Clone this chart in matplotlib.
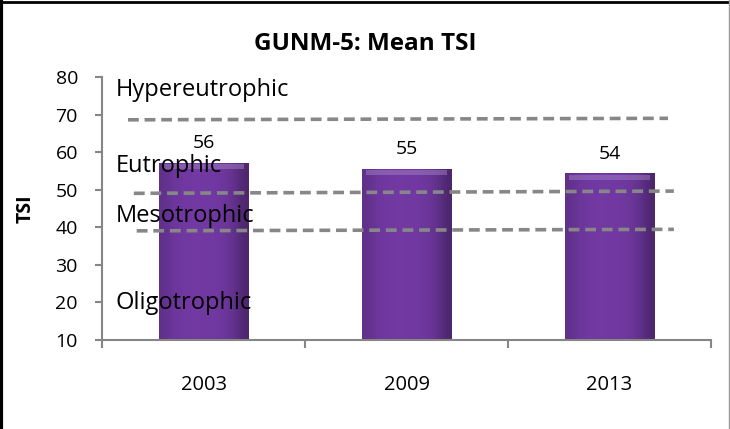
import matplotlib.pyplot as plt
from matplotlib.lines import Line2D
import numpy as np

#---Chart data
years = ['2003', '2009', '2013']
mean_tsi = [57.1, 55.5, 54.3]
bar_labels = ['56', '55', '54']

#---Trophic boundaries (left end, right end) and their names
boundary_left = [68.7, 49.1, 39.1]
boundary_right = [69.1, 49.7, 39.5]
zone_names = ['Hypereutrophic', 'Eutrophic', 'Mesotrophic', 'Oligotrophic']
zone_text_y = [76.7, 56.5, 43.1, 19.9]

plt.rcParams['font.family'] = ['Open Sans', 'DejaVu Sans']

fig = plt.figure(figsize=(7.3, 4.29), dpi=100)
ax = fig.add_axes([0.140, 0.2075, 0.834, 0.612])

x = np.arange(len(years))
bar_w = 0.44
bars = ax.bar(x, mean_tsi, width=bar_w, color='#6e3a98', linewidth=0, zorder=2)

#---shaded fill: darker at the sides, lighter bevel at the top
shade = np.array([0.86, 0.96, 1.0, 1.02, 1.02, 1.01, 1.0, 0.96, 0.86, 0.68])
base = np.array([0x70, 0x38, 0xa0]) / 255.0
for b in bars:
    x0 = b.get_x()
    h = b.get_height()
    img = np.clip(base[None, None, :] * shade[None, :, None], 0, 1)
    ax.imshow(img, extent=[x0, x0 + bar_w, 0, h], aspect='auto',
              interpolation='bicubic', zorder=2.5)
    ax.bar(x0 + bar_w / 2, 1.3, width=bar_w * 0.9, bottom=h - 1.6,
           color='#a080c0', alpha=0.5, linewidth=0, zorder=3)

for xi, v, lab in zip(x, mean_tsi, bar_labels):
    ax.text(xi, v + 5.3, lab, ha='center', va='center', fontsize=14, color='black')

#---dashed trophic boundaries
line_x = [(-0.373, 2.288), (-0.344, 2.317), (-0.330, 2.317)]
for (x0, x1), y0, y1 in zip(line_x, boundary_left, boundary_right):
    ax.plot([x0, x1], [y0, y1], color='#878787', linestyle=(0, (3, 1.6)),
            linewidth=2.6, zorder=4)

for name, ty in zip(zone_names, zone_text_y):
    ax.text(-0.432, ty, name, ha='left', va='center', fontsize=17, color='black', zorder=5)

ax.set_xlim(-0.5, 2.5)
ax.set_ylim(10, 80)
ax.set_yticks(np.arange(10, 81, 10))
ax.set_xticks(x)
ax.set_xticklabels(years)
ax.set_xticks([-0.5, 0.5, 1.5, 2.5], minor=True)
ax.tick_params(axis='x', which='major', length=0, pad=25, labelsize=14.5)
ax.tick_params(axis='x', which='minor', length=6, width=1.5, color='#868686', direction='out')
ax.tick_params(axis='y', length=5, width=1.5, color='#868686', pad=12.5, labelsize=14)

for s in ['top', 'right']:
    ax.spines[s].set_visible(False)
for s in ['left', 'bottom']:
    ax.spines[s].set_color('#868686')
    ax.spines[s].set_linewidth(1.5)

ax.set_ylabel('TSI', fontsize=14, fontweight='bold', labelpad=14)
fig.text(0.5, 0.897, 'GUNM-5: Mean TSI', ha='center', va='center', fontsize=17.5, fontweight='bold')

#---chart border
fig.add_artist(Line2D([0.002, 0.002], [0, 1], color='black', linewidth=3, transform=fig.transFigure))
fig.add_artist(Line2D([0, 1], [0.995, 0.995], color='black', linewidth=2, transform=fig.transFigure))
fig.add_artist(Line2D([0.9985, 0.9985], [0, 1], color='#9a9a9a', linewidth=1, transform=fig.transFigure))

fig.savefig('out.png', dpi=100)
